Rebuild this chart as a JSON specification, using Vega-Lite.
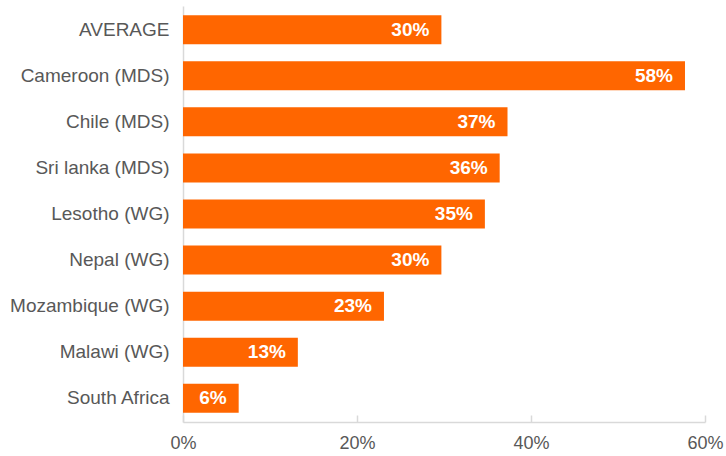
{
  "$schema": "https://vega.github.io/schema/vega-lite/v6.json",
  "width": 522,
  "height": 416,
  "autosize": {"type": "none"},
  "padding": {"left": 183, "top": 6, "right": 21, "bottom": 34},
  "background": "white",
  "config": {"view": {"stroke": null}, "font": "Liberation Sans"},
  "data": {"values": [
    {"country": "AVERAGE", "value": 0.297},
    {"country": "Cameroon (MDS)", "value": 0.577},
    {"country": "Chile (MDS)", "value": 0.373},
    {"country": "Sri lanka (MDS)", "value": 0.364},
    {"country": "Lesotho (WG)", "value": 0.347},
    {"country": "Nepal (WG)", "value": 0.297},
    {"country": "Mozambique (WG)", "value": 0.231},
    {"country": "Malawi (WG)", "value": 0.132},
    {"country": "South Africa", "value": 0.064}
  ]},
  "encoding": {
    "y": {"field": "country", "type": "nominal", "sort": null,
      "scale": {"paddingInner": 0.37, "paddingOuter": 0.2},
      "axis": {"title": null, "ticks": false, "labelFontSize": 19, "labelColor": "#585858", "labelPadding": 14, "domainColor": "#d9d9d9", "domainWidth": 1.5}},
    "x": {"field": "value", "type": "quantitative",
      "scale": {"domain": [0, 0.6], "nice": false},
      "axis": {"title": null, "format": ".0%", "values": [0, 0.2, 0.4, 0.6], "grid": false, "tickSize": -7, "tickColor": "#d9d9d9", "tickWidth": 1.5, "domainColor": "#d9d9d9", "domainWidth": 1.5, "labelFontSize": 18, "labelColor": "#585858", "labelPadding": 19, "labelFlush": false}}
  },
  "layer": [
    {"mark": {"type": "bar", "color": "#FF6600"}},
    {"mark": {"type": "text", "align": "right", "dx": -12, "color": "white", "fontWeight": "bold", "fontSize": 19},
      "encoding": {"text": {"field": "value", "type": "quantitative", "format": ".0%"}}}
  ]
}
